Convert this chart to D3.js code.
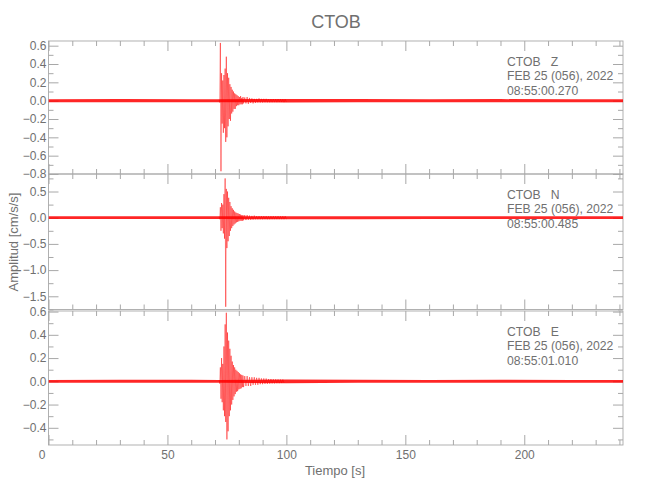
<!DOCTYPE html>
<html><head><meta charset="utf-8">
<script src="https://cdn.jsdelivr.net/npm/d3@7"></script>
<style>
body{margin:0;background:#fff;}
text{font-family:"Liberation Sans",Arial,sans-serif;fill:#707070;}
</style></head>
<body><svg id="c" width="650" height="500"></svg>
<script>
// ---- data ----
const title = "CTOB";
const channels = ["Z", "N", "E"];
const headerStation = "CTOB";
const headerDate = "FEB 25 (056), 2022";
const startTimes = ["08:55:00.270", "08:55:00.485", "08:55:01.010"];
const yDomains = [[-0.800, 0.651], [-1.752, 0.834], [-0.548, 0.605]];
const xDomain = [0, 241.5];
const xMajor = [0, 50, 100, 150, 200];
const xMinor = [10,20,30,40,60,70,80,90,110,120,130,140,160,170,180,190,210,220,230,240];
const yMajor = [[-0.8,-0.6,-0.4,-0.2,0,0.2,0.4,0.6],[-1.5,-1.0,-0.5,0,0.5],[-0.4,-0.2,0,0.2,0.4,0.6]];
const yMinor = [[-0.7,-0.5,-0.3,-0.1,0.1,0.3,0.5],[-1.75,-1.25,-0.75,-0.25,0.25,0.75],[-0.5,-0.3,-0.1,0.1,0.3,0.5]];
const yFormats = [".1f", ".1f", ".1f"];
const xLabel = "Tiempo [s]";
const yLabel = "Amplitud [cm/s/s]";

// background noise envelope (half-width of the trace band)
const noiseT = [0, 30, 60, 71.75, 100, 130, 160, 190, 220, 241.5];
const noiseZ = [0.016, 0.017, 0.016, 0.016, 0.019, 0.017, 0.016, 0.017, 0.016, 0.016];
const noiseN = [0.026, 0.027, 0.026, 0.027, 0.030, 0.028, 0.027, 0.027, 0.026, 0.027];
const noiseE = [0.012, 0.013, 0.013, 0.012, 0.016, 0.013, 0.012, 0.013, 0.012, 0.012];

// event waveform samples (s)
const evT = [71.75,72,72.25,72.5,72.75,73,73.25,73.5,73.75,74,74.25,74.5,74.75,75,75.25,75.5,75.75,76,76.25,76.5,76.75,77,77.25,77.5,77.75,78,78.25,78.5,78.75,79,79.25,79.5,79.75,80,80.25,80.5,80.75,81,81.25,81.5,81.75,82,
  82.5,83,83.5,84,84.5,85,85.5,86,86.5,87,87.5,88,88.5,89,89.5,90,90.5,91,91.5,92,92.5,93,93.5,94,94.5,95,95.5,96,96.5,97,97.5,98,98.5,99,99.5,100];
const evZ = [0.01,-0.02,0.63,-0.77,0.30,-0.25,0.22,-0.35,0.28,-0.30,0.35,-0.45,0.48,-0.40,0.30,-0.28,0.25,-0.20,0.18,-0.22,0.15,-0.14,0.12,-0.12,0.10,-0.09,0.08,-0.09,0.07,-0.06,0.06,-0.05,0.05,-0.05,0.04,-0.04,0.05,-0.04,0.03,-0.04,0.04,-0.03,
  0.035,-0.03,0.04,-0.035,0.03,-0.025,0.025,-0.03,0.02,-0.025,0.02,-0.02,0.025,-0.02,0.02,-0.02,0.02,-0.018,0.02,-0.018,0.017,-0.018,0.016,-0.017,0.017,-0.016,0.016,-0.016,0.017,-0.015,0.016,-0.015,0.015,-0.016,0.015,-0.015];
const evN = [0.02,-0.03,0.20,-0.25,0.28,-0.20,0.25,-0.30,0.45,-0.40,0.75,-1.70,0.55,-0.58,0.50,-0.45,0.38,-0.35,0.30,-0.25,0.22,-0.20,0.18,-0.16,0.15,-0.13,0.12,-0.11,0.10,-0.09,0.09,-0.08,0.08,-0.07,0.07,-0.06,0.06,-0.06,0.05,-0.06,0.05,-0.05,
  0.05,-0.045,0.05,-0.04,0.04,-0.04,0.035,-0.035,0.04,-0.03,0.03,-0.03,0.03,-0.03,0.03,-0.03,0.03,-0.028,0.03,-0.03,0.028,-0.03,0.028,-0.028,0.03,-0.028,0.028,-0.028,0.03,-0.028,0.028,-0.028,0.028,-0.028,0.028,-0.028];
const evE = [0.01,-0.02,0.12,-0.15,0.20,-0.18,0.15,-0.25,0.30,-0.30,0.49,-0.35,0.59,-0.50,0.42,-0.43,0.35,-0.30,0.28,-0.25,0.22,-0.20,0.17,-0.16,0.14,-0.13,0.12,-0.11,0.10,-0.09,0.09,-0.085,0.08,-0.07,0.07,-0.065,0.06,-0.06,0.055,-0.05,0.05,-0.05,
  0.045,-0.04,0.045,-0.04,0.035,-0.04,0.035,-0.03,0.035,-0.03,0.03,-0.03,0.03,-0.025,0.025,-0.025,0.025,-0.022,0.024,-0.022,0.02,-0.02,0.02,-0.018,0.018,-0.018,0.017,-0.016,0.016,-0.016,0.015,-0.015,0.015,-0.014];

const noise = [noiseZ, noiseN, noiseE];
const events = [evZ, evN, evE];

// ---- layout ----
const svg = d3.select("#c");
const L = 48.5, R = 623;
const panelTop = [41, 174, 311], panelBot = [174, 309.5, 445];
const axisCol = "#a8a8a8";
const x = d3.scaleLinear().domain(xDomain).range([L, R]);

svg.append("text").attr("x", 336).attr("y", 28).attr("text-anchor", "middle")
  .attr("font-size", 18).text(title);

channels.forEach((ch, i) => {
  const y = d3.scaleLinear().domain(yDomains[i]).range([panelBot[i], panelTop[i]]);
  const g = svg.append("g");
  const clipId = "clip" + i;
  g.append("clipPath").attr("id", clipId).append("rect")
    .attr("x", L).attr("y", panelTop[i]).attr("width", R - L).attr("height", panelBot[i] - panelTop[i]);

  const style = sel => { sel.select(".domain").remove(); sel.selectAll("line").attr("stroke", axisCol); };
  // left
  g.append("g").attr("transform", `translate(${L},0)`)
    .call(d3.axisLeft(y).tickValues(yMajor[i]).tickSize(-10).tickPadding(2)
      .tickFormat(v => d3.format(yFormats[i])(v).replace("-", "\u2212")))
    .call(style).call(s => s.selectAll("text").attr("font-size", 12).attr("fill", "#707070").attr("font-family", null));
  g.append("g").attr("transform", `translate(${L},0)`)
    .call(d3.axisLeft(y).tickValues(yMinor[i]).tickSize(-5).tickFormat("")).call(style);
  // right
  g.append("g").attr("transform", `translate(${R},0)`)
    .call(d3.axisRight(y).tickValues(yMajor[i]).tickSize(-10).tickFormat("")).call(style);
  g.append("g").attr("transform", `translate(${R},0)`)
    .call(d3.axisRight(y).tickValues(yMinor[i]).tickSize(-5).tickFormat("")).call(style);
  // top
  g.append("g").attr("transform", `translate(0,${panelTop[i]})`)
    .call(d3.axisTop(x).tickValues(xMajor).tickSize(-10).tickFormat("")).call(style);
  g.append("g").attr("transform", `translate(0,${panelTop[i]})`)
    .call(d3.axisTop(x).tickValues(xMinor).tickSize(-5).tickFormat("")).call(style);
  // bottom
  const last = i === channels.length - 1;
  g.append("g").attr("transform", `translate(0,${panelBot[i]})`)
    .call(d3.axisBottom(x).tickValues(xMajor).tickSize(-10).tickPadding(5).tickFormat(last ? d3.format("d") : ""))
    .call(style).call(s => s.selectAll("text").attr("font-size", 12).attr("fill", "#707070").attr("font-family", null)
      .attr("dx", d => d === 0 ? -7 : 0));
  g.append("g").attr("transform", `translate(0,${panelBot[i]})`)
    .call(d3.axisBottom(x).tickValues(xMinor).tickSize(-5).tickFormat("")).call(style);
  // frame
  g.append("rect").attr("x", L).attr("y", panelTop[i]).attr("width", R - L).attr("height", panelBot[i] - panelTop[i])
    .attr("fill", "none").attr("stroke", axisCol).attr("stroke-width", 0.9);

  // noise band
  const nd = noiseT.map((t, k) => ({t, a: noise[i][k]}));
  g.append("path").datum(nd).attr("clip-path", `url(#${clipId})`)
    .attr("fill", "#ff0000").attr("opacity", 0.85)
    .attr("d", d3.area().x(d => x(d.t)).y0(d => y(-d.a)).y1(d => y(d.a)));
  // waveform
  const ed = evT.map((t, k) => ({t, v: events[i][k]}));
  g.append("path").datum(ed).attr("clip-path", `url(#${clipId})`)
    .attr("fill", "none").attr("stroke", "#ff0000").attr("stroke-width", 0.6).attr("stroke-opacity", 0.8)
    .attr("d", d3.line().x(d => x(d.t)).y(d => y(d.v)));

  // header text
  const tx = 507, ty = panelTop[i] + 25;
  const lines = [headerStation + "   " + ch, headerDate, startTimes[i]];
  lines.forEach((s, k) => {
    svg.append("text").attr("x", tx).attr("y", ty + k * 14.3).attr("font-size", 12.2)
      .attr("xml:space", "preserve").style("white-space", "pre").text(s);
  });
});

svg.append("text").attr("x", 335).attr("y", 475).attr("text-anchor", "middle").attr("font-size", 13).text(xLabel);
svg.append("text").attr("transform", "translate(18,242) rotate(-90)").attr("text-anchor", "middle")
  .attr("font-size", 13).text(yLabel);
</script></body></html>
